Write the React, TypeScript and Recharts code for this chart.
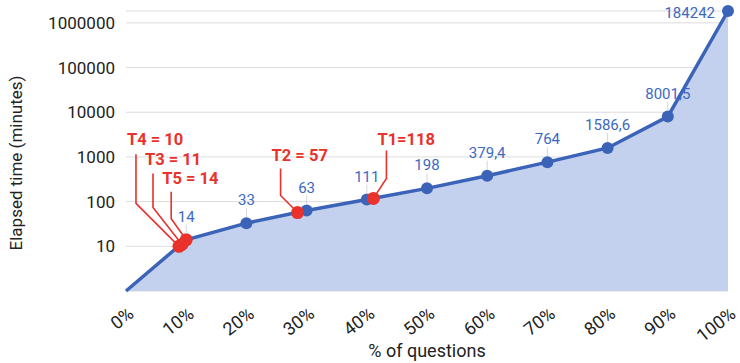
import React from 'react';
import { ComposedChart, Area, Scatter, XAxis, YAxis, CartesianGrid, LabelList } from 'recharts';

// ---------- data ----------
const percentCategories = [0, 10, 20, 30, 40, 50, 60, 70, 80, 90, 100];
const elapsedMinutes = [1, 14, 33, 63, 111, 198, 379.4, 764, 1586.6, 8001.5, 1842420];
const valueLabels = ['', '14', '33', '63', '111', '198', '379,4', '764', '1586,6', '8001,5', '184242'];
const yTicks = [10, 100, 1000, 10000, 100000, 1000000];

const markerPercents = [8.8, 9.3, 10, 28.5, 41.1];
const markerValues = [10, 11, 14, 57, 118];
const markerLabels = ['T4 = 10', 'T3 = 11', 'T5 = 14', 'T2 = 57', 'T1=118'];

// ---------- layout / style (callout offsets in px, relative to the marker dot) ----------
const callouts = [
  { tx: -52, ty: -101, kx: -43, top: -92, knee: -43 },
  { tx: -37, ty: -79, kx: -29, top: -71, knee: -37 },
  { tx: -24, ty: -56, kx: -15, top: -48, knee: -21 },
  { tx: -26, ty: -52, kx: -17, top: -44, knee: -17 },
  { tx: 4, ty: -53, kx: 13, top: -48, knee: -20 },
];

const BLUE = '#3b63b8';
const FILL = '#c3d1ee';
const LABEL_BLUE = '#3d69c2';
const RED = '#e8322b';
const FONT = 'Roboto, "Noto Sans", sans-serif';

const chartData = percentCategories.map((p, i) => ({ pct: p, value: elapsedMinutes[i] }));
const markerData = markerPercents.map((p, i) => ({ pct: p, value: markerValues[i], idx: i }));

const BlueDot = (props: any) => {
  const { cx, cy, index } = props;
  if (index === 0 || cx == null || cy == null) return null;
  return <circle key={`d${index}`} cx={cx} cy={cy} r={6} fill={BLUE} />;
};

const BlueLabel = (props: any) => {
  const { x, y, index } = props;
  const text = valueLabels[index];
  if (!text) return null;
  const last = index === valueLabels.length - 1;
  if (last) {
    return (
      <text x={x - 13} y={y + 7} textAnchor="end" fill={LABEL_BLUE} fontSize={15} fontFamily={FONT}>
        {text}
      </text>
    );
  }
  return (
    <g>
      <line x1={x} x2={x} y1={y - 15} y2={y - 6} stroke="#d6d6d6" strokeWidth={1} />
      <text x={x} y={y - 18} textAnchor="middle" fill={LABEL_BLUE} fontSize={15} fontFamily={FONT}>
        {text}
      </text>
    </g>
  );
};

const CalloutShape = (props: any) => {
  const { cx, cy, payload } = props;
  const c = callouts[payload.idx];
  const x = cx;
  const y = cy;
  const d = `M${x + c.kx},${y + c.top} L${x + c.kx},${y + c.knee} L${x},${y}`;
  return (
    <g>
      <path d={d} fill="none" stroke={RED} strokeWidth={1.6} />
      <text x={x + c.tx} y={y + c.ty} fill={RED} fontSize={16.5} fontWeight={700} fontFamily={FONT}>
        {markerLabels[payload.idx]}
      </text>
    </g>
  );
};

const RedDot = (props: any) => {
  const { cx, cy } = props;
  return <circle cx={cx} cy={cy} r={6.5} fill={RED} />;
};

const XTick = (props: any) => {
  const { x, y, payload } = props;
  const tx = x + 9;
  const ty = y + 17;
  return (
    <text
      x={tx}
      y={ty}
      textAnchor="end"
      transform={`rotate(-38, ${tx}, ${ty})`}
      fill="#222"
      fontSize={18}
      fontFamily={FONT}
    >
      {`${payload.value}%`}
    </text>
  );
};

export default function App() {
  const yMax = Math.max(...elapsedMinutes);
  return (
    <div style={{ position: 'absolute', left: 0, top: 0, width: 740, height: 363, background: '#fff' }}>
      <ComposedChart
        width={740}
        height={363}
        data={chartData}
        margin={{ top: 11, right: 12, left: 0, bottom: 0 }}
      >
        <CartesianGrid horizontal vertical={false} stroke="#dcdcdc" strokeWidth={1} />
        <XAxis
          dataKey="pct"
          type="number"
          domain={[0, 100]}
          ticks={percentCategories}
          axisLine={false}
          tickLine={false}
          height={72}
          tick={<XTick />}
          interval={0}
          label={{
            content: () => (
              <text x={427} y={357} textAnchor="middle" fill="#222" fontSize={18} fontFamily={FONT}>
                % of questions
              </text>
            ),
          }}
        />
        <YAxis
          type="number"
          scale="log"
          domain={[1, yMax]}
          ticks={yTicks}
          interval={0}
          width={126}
          axisLine={false}
          tickLine={false}
          tickSize={6}
          tickMargin={5}
          tickFormatter={(v: number) => String(v)}
          tick={{ fill: '#222', fontSize: 17, fontFamily: FONT }}
          label={{
            content: () => (
              <text
                transform="translate(22,163) rotate(-90)"
                textAnchor="middle"
                fill="#222"
                fontSize={17}
                fontFamily={FONT}
              >
                Elapsed time (minutes)
              </text>
            ),
          }}
        />
        <Area
          type="linear"
          dataKey="value"
          stroke={BLUE}
          strokeWidth={3.5}
          fill={FILL}
          fillOpacity={1}
          baseValue={1}
          dot={<BlueDot />}
          activeDot={false}
          isAnimationActive={false}
        >
          <LabelList dataKey="value" content={<BlueLabel />} />
        </Area>
        <Scatter data={markerData} dataKey="value" shape={<CalloutShape />} isAnimationActive={false} />
        <Scatter data={markerData} dataKey="value" shape={<RedDot />} isAnimationActive={false} />
      </ComposedChart>
    </div>
  );
}
